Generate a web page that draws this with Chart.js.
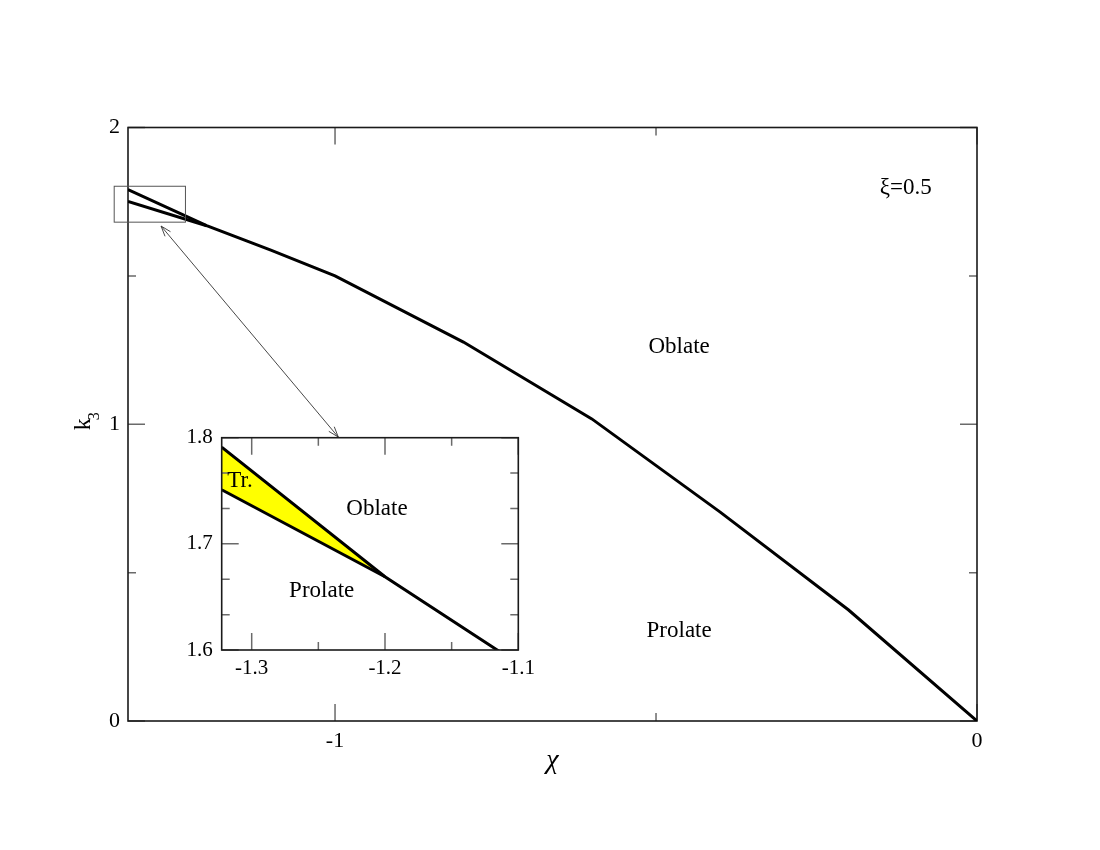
<!DOCTYPE html>
<html>
<head>
<meta charset="utf-8">
<script src="https://cdn.jsdelivr.net/npm/chart.js@4/dist/chart.umd.min.js"></script>
<style>
  html, body { margin: 0; padding: 0; background: #ffffff; }
  #wrap { position: relative; width: 1100px; height: 850px; }
  #mainBox { position: absolute; left: 0; top: 0; width: 1100px; height: 850px; }
  #insetBox { position: absolute; left: 160px; top: 415px; width: 400px; height: 280px; }
</style>
</head>
<body>
<div id="wrap">
  <div id="mainBox"><canvas id="main" width="1100" height="850"></canvas></div>
  <div id="insetBox"><canvas id="inset" width="400" height="280"></canvas></div>
</div>
<script>
// ---------- data ----------
const chiUpper = [-1.3225, -1.2, -1.1, -1.0, -0.8, -0.6, -0.4, -0.2, 0];
const k3Upper  = [1.791, 1.669, 1.587, 1.5, 1.277, 1.018, 0.704, 0.374, 0];
const chiLower = [-1.3225, -1.2];
const k3Lower  = [1.751, 1.669];

// tick values / labels
const mainXMajor = [-1, 0];
const mainXMinor = [-0.5];
const mainYMajor = [0, 1, 2];
const mainYMinor = [0.5, 1.5];
const insetXMajor = [-1.3, -1.2, -1.1];
const insetXMinor = [-1.25, -1.15];
const insetYMajor = [1.6, 1.7, 1.8];
const insetYMinor = [1.6333, 1.6667, 1.7333, 1.7667];

// axis ranges
const mainXRange = [-1.3225, 0];
const mainYRange = [0, 2];
const insetXRange = [-1.3225, -1.1];
const insetYRange = [1.6, 1.8];

// region labels (data coordinates)
const mainLabels = [
  { text: 'ξ=0.5',   x: -0.111, y: 1.795 },
  { text: 'Oblate',  x: -0.464, y: 1.262 },
  { text: 'Prolate', x: -0.464, y: 0.302 }
];
const insetLabels = [
  { text: 'Oblate',  x: -1.206,  y: 1.733 },
  { text: 'Prolate', x: -1.2475, y: 1.656 },
  { text: 'Tr.',     x: -1.3088, y: 1.7595 }
];
// zoom box and arrow (data coordinates of main chart)
const zoomBoxX = [-1.344, -1.233];
const zoomBoxY = [1.681, 1.802];
const arrowFrom = [-1.271, 1.668];
const arrowTo   = [-0.995, 0.957];

// ---------- helpers ----------
const FONT = '"Liberation Serif", "Times New Roman", serif';
const toPts = (xs, ys) => xs.map((x, i) => ({ x: x, y: ys[i] }));
const tickList = (major, minor) => major.concat(minor).sort((a, b) => a - b);
const isMajor = (major, v) => major.some(m => Math.abs(m - v) < 1e-9);

function drawFrameAndTicks(chart, majorLen, minorLen) {
  const { ctx, chartArea: a } = chart;
  const sx = chart.scales.x, sy = chart.scales.y;
  ctx.save();
  ctx.strokeStyle = '#6a6a6a';
  ctx.lineWidth = 1.5;
  ctx.beginPath();
  sx.ticks.forEach(t => {
    const px = sx.getPixelForValue(t.value);
    const len = t.label !== '' ? majorLen : minorLen;
    ctx.moveTo(px, a.bottom); ctx.lineTo(px, a.bottom - len);
    ctx.moveTo(px, a.top);    ctx.lineTo(px, a.top + len);
  });
  sy.ticks.forEach(t => {
    const py = sy.getPixelForValue(t.value);
    const len = t.label !== '' ? majorLen : minorLen;
    ctx.moveTo(a.left, py);  ctx.lineTo(a.left + len, py);
    ctx.moveTo(a.right, py); ctx.lineTo(a.right - len, py);
  });
  ctx.stroke();
  ctx.strokeStyle = '#1a1a1a';
  ctx.lineWidth = 1.6;
  ctx.strokeRect(a.left, a.top, a.right - a.left, a.bottom - a.top);
  ctx.restore();
}

function drawLabels(chart, labels, size) {
  const { ctx } = chart;
  const sx = chart.scales.x, sy = chart.scales.y;
  ctx.save();
  ctx.fillStyle = '#000';
  ctx.font = size + 'px ' + FONT;
  ctx.textAlign = 'center';
  ctx.textBaseline = 'middle';
  labels.forEach(l => ctx.fillText(l.text, sx.getPixelForValue(l.x), sy.getPixelForValue(l.y)));
  ctx.restore();
}

function arrowHead(ctx, x0, y0, x1, y1, len, ang) {
  const a = Math.atan2(y1 - y0, x1 - x0);
  ctx.moveTo(x1 - len * Math.cos(a - ang), y1 - len * Math.sin(a - ang));
  ctx.lineTo(x1, y1);
  ctx.lineTo(x1 - len * Math.cos(a + ang), y1 - len * Math.sin(a + ang));
}

function scaleOpts(range, major, minor, fixSize, isX, padding, fontSize) {
  return {
    type: 'linear',
    min: range[0],
    max: range[1],
    afterBuildTicks: s => { s.ticks = tickList(major, minor).map(v => ({ value: v })); },
    afterFit: s => {
      if (isX) { s.height = fixSize; } else { s.width = fixSize; }
      s.paddingLeft = 0; s.paddingRight = 0; s.paddingTop = 0; s.paddingBottom = 0;
    },
    grid: { display: false, drawTicks: false },
    border: { display: false },
    ticks: {
      autoSkip: false,
      maxRotation: 0,
      padding: padding,
      color: '#000',
      font: { family: FONT, size: fontSize },
      callback: v => isMajor(major, v) ? String(Math.round(v * 1000) / 1000) : ''
    }
  };
}

// ---------- main chart ----------
const mainPlugin = {
  id: 'mainDecor',
  beforeDatasetsDraw(chart) { drawFrameAndTicks(chart, 17, 8); },
  afterDatasetsDraw(chart) {
    const { ctx, chartArea: a } = chart;
    const sx = chart.scales.x, sy = chart.scales.y;
    drawLabels(chart, mainLabels, 23);
    // zoom box
    ctx.save();
    ctx.strokeStyle = '#555';
    ctx.lineWidth = 1;
    const bx0 = sx.getPixelForValue(zoomBoxX[0]), bx1 = sx.getPixelForValue(zoomBoxX[1]);
    const by0 = sy.getPixelForValue(zoomBoxY[1]), by1 = sy.getPixelForValue(zoomBoxY[0]);
    ctx.strokeRect(bx0, by0, bx1 - bx0, by1 - by0);
    // double-headed arrow
    const x0 = sx.getPixelForValue(arrowFrom[0]), y0 = sy.getPixelForValue(arrowFrom[1]);
    const x1 = sx.getPixelForValue(arrowTo[0]),   y1 = sy.getPixelForValue(arrowTo[1]);
    ctx.strokeStyle = '#333';
    ctx.lineWidth = 0.9;
    ctx.beginPath();
    ctx.moveTo(x0, y0); ctx.lineTo(x1, y1);
    arrowHead(ctx, x0, y0, x1, y1, 11, 0.33);
    arrowHead(ctx, x1, y1, x0, y0, 11, 0.33);
    ctx.stroke();
    // y-axis title k3 with subscript
    ctx.fillStyle = '#000';
    ctx.translate(a.left - 38, (a.top + a.bottom) / 2 + 6);
    ctx.rotate(-Math.PI / 2);
    ctx.textAlign = 'left';
    ctx.textBaseline = 'alphabetic';
    ctx.font = '24px ' + FONT;
    ctx.fillText('k', 0, 0);
    const w = ctx.measureText('k').width;
    ctx.font = '16px ' + FONT;
    ctx.fillText('3', w - 2, 9);
    ctx.restore();
  }
};

new Chart(document.getElementById('main'), {
  type: 'scatter',
  data: {
    datasets: [
      { data: toPts(chiUpper, k3Upper), showLine: true, borderColor: '#000', borderWidth: 3,
        pointRadius: 0, fill: false, tension: 0 },
      { data: toPts(chiLower, k3Lower), showLine: true, borderColor: '#000', borderWidth: 3,
        pointRadius: 0, fill: false, tension: 0 }
    ]
  },
  options: {
    responsive: false,
    animation: false,
    layout: { padding: { top: 127.5, right: 123, left: 0, bottom: 0 } },
    plugins: { legend: { display: false }, tooltip: { enabled: false } },
    scales: {
      x: Object.assign(scaleOpts(mainXRange, mainXMajor, mainXMinor, 129, true, 7, 22), {
        title: { display: true, text: 'χ', color: '#000',
                 font: { family: FONT, size: 28, style: 'italic' },
                 padding: { top: 0, bottom: 73 } }
      }),
      y: scaleOpts(mainYRange, mainYMajor, mainYMinor, 128, false, 8, 22)
    }
  },
  plugins: [mainPlugin]
});

// ---------- inset chart ----------
const upperTr = toPts(chiUpper, k3Upper).filter(p => p.x <= chiLower[chiLower.length - 1] + 1e-9);

const insetPlugin = {
  id: 'insetDecor',
  beforeDatasetsDraw(chart) {
    const { ctx, chartArea: a } = chart;
    ctx.save();
    ctx.fillStyle = '#fff';
    ctx.fillRect(a.left, a.top, a.right - a.left, a.bottom - a.top);
    ctx.restore();
  },
  afterDatasetsDraw(chart) {
    drawFrameAndTicks(chart, 17, 8);
    drawLabels(chart, insetLabels, 23);
  }
};

new Chart(document.getElementById('inset'), {
  type: 'scatter',
  data: {
    datasets: [
      { data: toPts(chiUpper, k3Upper), showLine: true, borderColor: '#000', borderWidth: 3,
        pointRadius: 0, fill: false, tension: 0, order: 1 },
      { data: upperTr, showLine: true, borderWidth: 0, borderColor: 'rgba(0,0,0,0)',
        backgroundColor: '#ffff00', pointRadius: 0, fill: '+1', tension: 0, order: 5 },
      { data: toPts(chiLower, k3Lower), showLine: true, borderColor: '#000', borderWidth: 3,
        pointRadius: 0, fill: false, tension: 0, order: 2 }
    ]
  },
  options: {
    responsive: false,
    animation: false,
    layout: { padding: { top: 22.7, right: 41.7, left: 0, bottom: 0 } },
    plugins: { legend: { display: false }, tooltip: { enabled: false } },
    scales: {
      x: scaleOpts(insetXRange, insetXMajor, insetXMinor, 45, true, 6, 21),
      y: scaleOpts(insetYRange, insetYMajor, insetYMinor, 61.7, false, 9, 21)
    }
  },
  plugins: [insetPlugin]
});
</script>
</body>
</html>
